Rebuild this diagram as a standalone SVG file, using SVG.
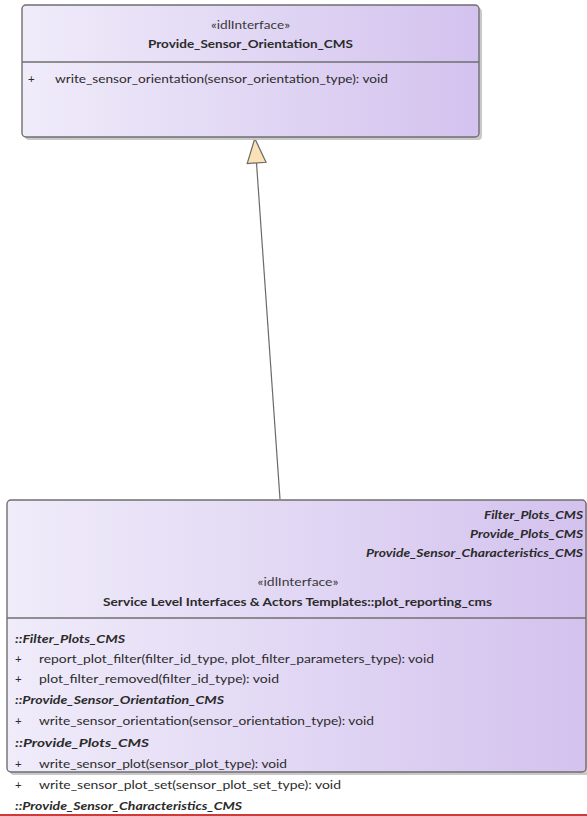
<svg xmlns="http://www.w3.org/2000/svg" width="587" height="816" viewBox="0 0 587 816">
<defs>
<linearGradient id="fillGrad" x1="0" y1="0" x2="1" y2="0">
<stop offset="0" stop-color="#f0ecfa"/>
<stop offset="1" stop-color="#d3c2ee"/>
</linearGradient>
</defs>
<style>
text{font-family:Lato,"Liberation Sans",sans-serif;font-size:11.5px;fill:#2b2b2b}
.st{fill:#3a3a3a}
.b{font-weight:bold}
.bi{font-weight:bold;font-style:italic}
.mid{text-anchor:middle}
.end{text-anchor:end}
.box{fill:url(#fillGrad);stroke:#6f6f6f;stroke-width:1.4}
.shadow{fill:#c9c9c9}
.div{stroke:#6f6f6f;stroke-width:1.4}
.conn{stroke:#6a6a6a;stroke-width:1.2;fill:none}
.tri{fill:#fbe1b6;stroke:#6a6a6a;stroke-width:1.2;stroke-linejoin:miter}
</style>
<rect width="587" height="816" fill="#ffffff"/>

<g id="connectors">
<line class="conn" x1="256.5" y1="163" x2="280" y2="499"/>
<polygon class="tri" points="254.8,138.5 247.2,163.5 266,162.3"/>
</g>

<g id="Provide_Sensor_Orientation_CMS">
<rect class="shadow" x="25" y="8" width="457" height="132" rx="4"/>
<rect class="box" x="22" y="5" width="457" height="132" rx="4"/>
<line class="div" x1="22" y1="62" x2="479" y2="62"/>
<text class="st mid" x="250.5" y="29" textLength="79" lengthAdjust="spacingAndGlyphs">«idlInterface»</text>
<text class="b mid" x="250.5" y="48" textLength="205" lengthAdjust="spacingAndGlyphs">Provide_Sensor_Orientation_CMS</text>
<text x="28" y="83">+</text>
<text x="55" y="83" textLength="333" lengthAdjust="spacingAndGlyphs">write_sensor_orientation(sensor_orientation_type): void</text>
</g>

<g id="plot_reporting_cms">
<rect class="shadow" x="10" y="503" width="580" height="272" rx="4"/>
<rect class="box" x="7" y="500" width="579" height="272" rx="4"/>
<line class="div" x1="7" y1="618" x2="586" y2="618"/>
<text class="bi end" x="583" y="519" textLength="99" lengthAdjust="spacingAndGlyphs">Filter_Plots_CMS</text>
<text class="bi end" x="583" y="538" textLength="113" lengthAdjust="spacingAndGlyphs">Provide_Plots_CMS</text>
<text class="bi end" x="583" y="557" textLength="217" lengthAdjust="spacingAndGlyphs">Provide_Sensor_Characteristics_CMS</text>
<text class="st mid" x="298" y="586" textLength="81" lengthAdjust="spacingAndGlyphs">«idlInterface»</text>
<text class="b mid" x="297.5" y="606" textLength="389" lengthAdjust="spacingAndGlyphs">Service Level Interfaces &amp; Actors Templates::plot_reporting_cms</text>
<text class="bi" x="15" y="643" textLength="110" lengthAdjust="spacingAndGlyphs">::Filter_Plots_CMS</text>
<text x="15" y="663">+</text>
<text x="39" y="663" textLength="395" lengthAdjust="spacingAndGlyphs">report_plot_filter(filter_id_type, plot_filter_parameters_type): void</text>
<text x="15" y="683">+</text>
<text x="39" y="683" textLength="240" lengthAdjust="spacingAndGlyphs">plot_filter_removed(filter_id_type): void</text>
<text class="bi" x="15" y="704" textLength="209" lengthAdjust="spacingAndGlyphs">::Provide_Sensor_Orientation_CMS</text>
<text x="15" y="725">+</text>
<text x="39" y="725" textLength="335" lengthAdjust="spacingAndGlyphs">write_sensor_orientation(sensor_orientation_type): void</text>
<text class="bi" x="15" y="747" textLength="134" lengthAdjust="spacingAndGlyphs">::Provide_Plots_CMS</text>
<text x="15" y="768">+</text>
<text x="39" y="768" textLength="248" lengthAdjust="spacingAndGlyphs">write_sensor_plot(sensor_plot_type): void</text>
<text x="15" y="789">+</text>
<text x="39" y="789" textLength="302" lengthAdjust="spacingAndGlyphs">write_sensor_plot_set(sensor_plot_set_type): void</text>
<text class="bi" x="15" y="810" textLength="227" lengthAdjust="spacingAndGlyphs">::Provide_Sensor_Characteristics_CMS</text>
</g>

<line x1="0" y1="815" x2="587" y2="815" stroke="#d03a3a" stroke-width="2"/>
</svg>
